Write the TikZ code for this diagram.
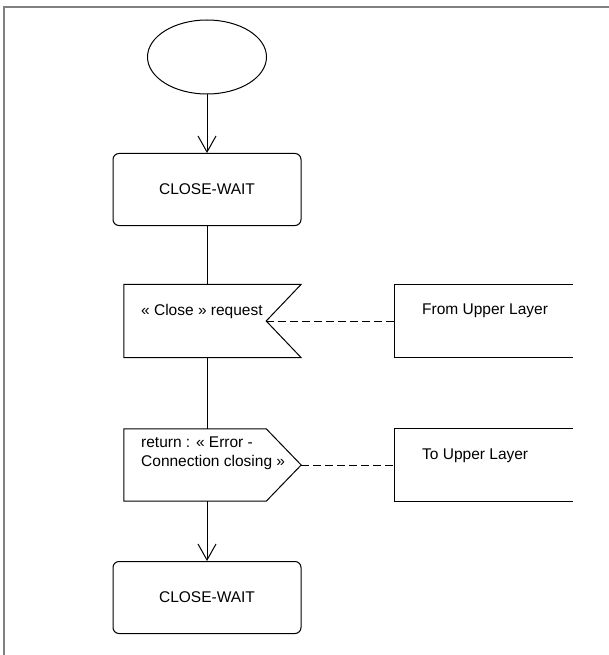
\documentclass[tikz,border=0pt]{standalone}
\usepackage{fontspec}
\setmainfont{Liberation Sans}
\usepackage{tikz}
\usetikzlibrary{positioning,arrows.meta,shapes.geometric}
\definecolor{framegray}{RGB}{128,128,128}
\tikzset{
		lineStyle/.style = 	{line width = 1pt},
		flowArrow/.style = 	{lineStyle, -{Straight Barb[length=16pt,width=18pt]}},
		dashLink/.style = 	{lineStyle, dash pattern=on 8pt off 4pt},
		frameLine/.style = 	{line width = 2pt, color=framegray},
		startEll/.style = 	{ellipse, draw, lineStyle, minimum width=119pt, minimum height=74pt},
		stateBox/.style = 	{draw, lineStyle, rounded corners=6pt, minimum width=188pt, minimum height=72pt, font=\fontsize{15.5}{19}\selectfont},
		sigBox/.style = 	{minimum width=142pt, minimum height=73pt, inner sep=0pt},
		envBox/.style = 	{minimum width=178pt, minimum height=73pt, inner sep=0pt},
		txt/.style = 		{anchor=west, inner sep=0pt, align=left, font=\fontsize{15.5}{19}\selectfont}
}

\begin{document}
\begin{tikzpicture}[x=1pt,y=-1pt]
  \useasboundingbox (0,0) rectangle (609,655);
  % frame, open at right and bottom
  \draw[frameLine] (4,656) -- (4,7) -- (610,7);

  % start and first state
  \node[startEll] (start) at (207,57) {};
  \node[stateBox] (wait1) at (207,189.5) {CLOSE-WAIT};
  \draw[flowArrow] (start) -- (wait1);

  % input signal
  \node[sigBox] (closeReq) at (195,321) {};
  \draw[lineStyle] (closeReq.north west) -- ([xshift=35pt]closeReq.north east) -- (closeReq.east)
    -- ([xshift=35pt]closeReq.south east) -- (closeReq.south west) -- cycle;
  \node[txt] (reqText) at (141,311) {« Close » request};

  \node[envBox] (fromUL) at (484,321) {};
  \draw[lineStyle] (fromUL.north east) -- (fromUL.north west) -- (fromUL.south west) -- (fromUL.south east);
  \node[txt] (fromText) at (422,311) {From Upper Layer};
  \draw[dashLink] (closeReq.east) -- (fromUL.west);

  % output signal
  \node[sigBox, minimum height=72pt] (errRet) at (195,465) {};
  \coordinate (errTip) at ([xshift=35pt]errRet.east);
  \draw[lineStyle] (errRet.north west) -- (errRet.north east) -- (errTip)
    -- (errRet.south east) -- (errRet.south west) -- cycle;
  \node[txt] (retText) at (141,453.5) {return : « Error -\\Connection closing »};

  \node[envBox, minimum height=72pt] (toUL) at (484,465) {};
  \draw[lineStyle] (toUL.north east) -- (toUL.north west) -- (toUL.south west) -- (toUL.south east);
  \node[txt] (toText) at (422,456) {To Upper Layer};
  \draw[dashLink] (errTip) -- (toUL.west);

  % back to state
  \node[stateBox] (wait2) at (207,597.5) {CLOSE-WAIT};

  % flow line
  \draw[lineStyle] (wait1.south) -- (wait1.south |- closeReq.north);
  \draw[lineStyle] (wait1.south |- closeReq.south) -- (wait1.south |- errRet.north);
  \draw[flowArrow] (wait1.south |- errRet.south) -- (wait2.north);
\end{tikzpicture}
\end{document}
